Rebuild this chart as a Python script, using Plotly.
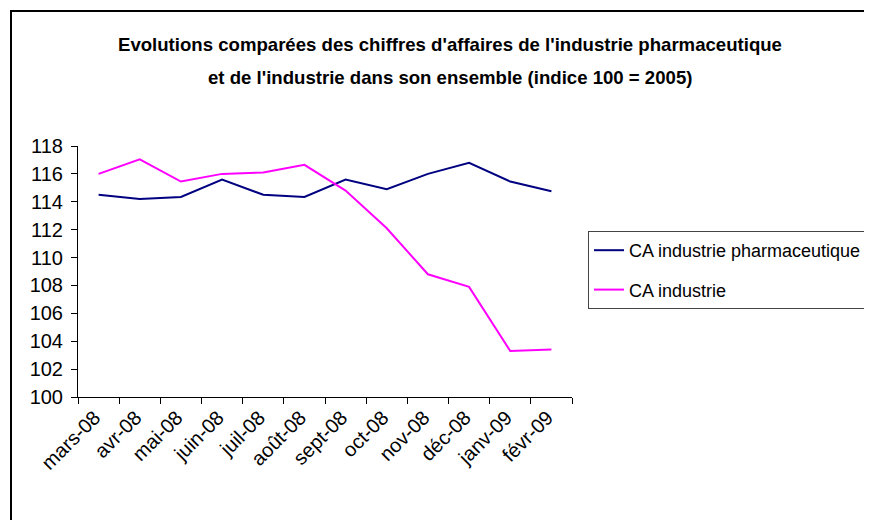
import plotly.graph_objects as go

months = ["mars-08", "avr-08", "mai-08", "juin-08", "juil-08", "août-08",
          "sept-08", "oct-08", "nov-08", "déc-08", "janv-09", "févr-09"]
ca_pharma = [114.5, 114.2, 114.35, 115.6, 114.5, 114.35,
             115.6, 114.9, 116.0, 116.8, 115.45, 114.75]
ca_industrie = [116.0, 117.05, 115.45, 116.0, 116.1, 116.65,
                114.8, 112.1, 108.8, 107.9, 103.3, 103.4]
y_ticks = [100, 102, 104, 106, 108, 110, 112, 114, 116, 118]
title_lines = ["Evolutions comparées des chiffres d'affaires de l'industrie pharmaceutique",
               "et de l'industrie dans son ensemble (indice 100 = 2005)"]
series_names = ["CA industrie pharmaceutique", "CA industrie"]

FONT = "Liberation Sans Narrow, Arial Narrow, Liberation Sans, Arial, sans-serif"

OFF = 8  # page body margin
W, H = 872 - OFF, 520 - OFF
# plot area in reference page pixels: x 78..572, y 146..397
L, T = 78 - OFF, 146 - OFF
R = W - (572 - OFF)
B = H - (397 - OFF)
pw = W - L - R
ph = H - T - B

def fx(px):  # reference page x -> paper
    return (px - OFF - L) / pw

def fy(py):  # reference page y -> paper
    return (H - B - (py - OFF)) / ph

fig = go.Figure()
fig.add_trace(go.Scatter(x=months, y=ca_pharma, mode="lines", name=series_names[0],
                         line=dict(color="#000080", width=2), legendgroup="a"))
fig.add_trace(go.Scatter(x=months, y=ca_industrie, mode="lines", name=series_names[1],
                         line=dict(color="#FF00FF", width=2), legendgroup="b"))

annotations = []
for txt, yy in zip(title_lines, [45, 77]):
    annotations.append(dict(text="<b>" + txt + "</b>", xref="paper", yref="paper",
                            x=fx(450), y=fy(yy), xanchor="center", yanchor="middle",
                            showarrow=False, font=dict(family=FONT, size=18.6, color="#000")))

fig.update_layout(
    width=W, height=H,
    margin=dict(l=L, r=R, t=T, b=B, autoexpand=False),
    paper_bgcolor="white", plot_bgcolor="white",
    font=dict(family=FONT, size=20, color="#000"),
    showlegend=True,
    legend=dict(xref="container", yref="container", x=(588 - OFF) / W, y=1 - (231 - OFF) / H,
                xanchor="left", yanchor="top",
                bordercolor="#444", borderwidth=1, bgcolor="white",
                font=dict(family=FONT, size=18, color="#000"),
                traceorder="grouped", tracegroupgap=13, itemwidth=30),
    annotations=annotations,
    shapes=[dict(type="rect", xref="paper", yref="paper",
                 x0=fx(11), x1=fx(1000), y0=fy(600), y1=fy(11),
                 line=dict(color="black", width=2), fillcolor="rgba(0,0,0,0)", layer="below")],
)
fig.update_xaxes(type="category", showgrid=False, showline=True, linecolor="black", linewidth=1,
                 ticks="outside", ticklen=6, tickcolor="black", tickson="boundaries",
                 tickangle=-45, tickfont=dict(family=FONT, size=20), zeroline=False,
                 range=[-0.5, len(months) - 0.5], automargin=False, ticklabelshift=-4)
fig.update_yaxes(range=[100, 118], tickvals=y_ticks, showgrid=False, showline=True,
                 linecolor="black", linewidth=1, ticks="outside", ticklen=6, tickcolor="black",
                 tickfont=dict(family=FONT, size=20), zeroline=False, ticklabelstandoff=4,
                 automargin=False)

fig.write_html("out.html")
